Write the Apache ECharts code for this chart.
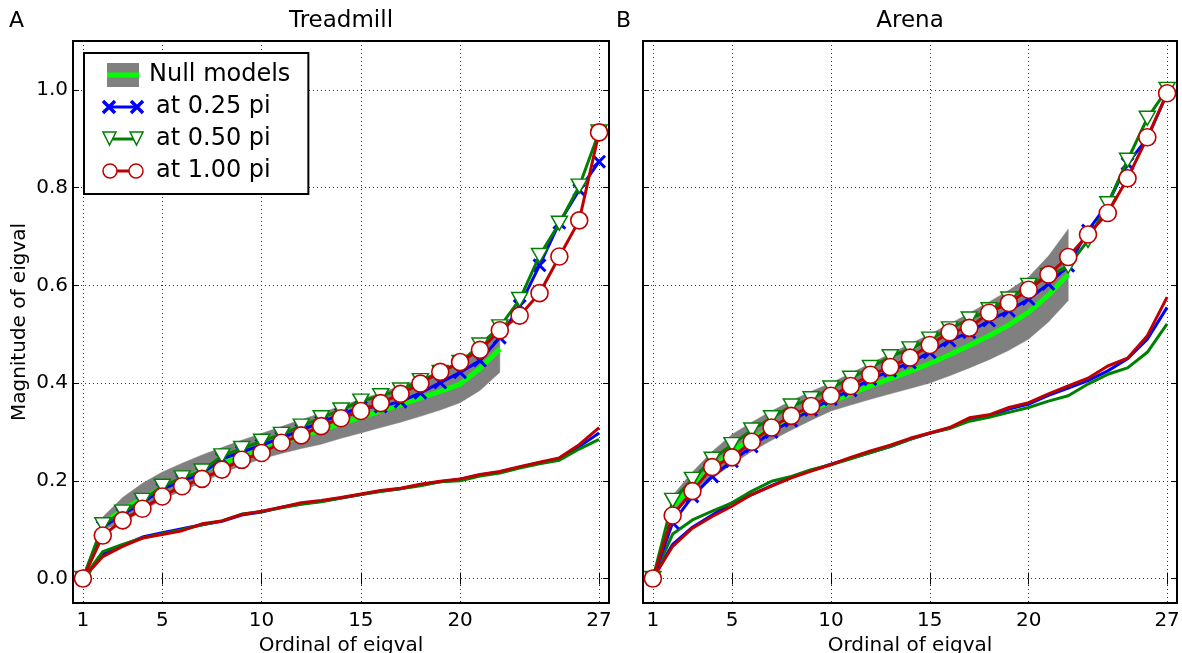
<!DOCTYPE html>
<html>
<head>
<meta charset="utf-8">
<script src="https://cdn.jsdelivr.net/npm/echarts@6/dist/echarts.min.js"></script>
<style>html,body{margin:0;padding:0;background:#fff}#c{width:1182px;height:653px}</style>
</head>
<body>
<div id="c"></div>
<script>
// ---------- data ----------
const ordinals = [1,2,3,4,5,6,7,8,9,10,11,12,13,14,15,16,17,18,19,20,21,22,23,24,25,26,27];
const nullOrdinals = [2,3,4,5,6,7,8,9,10,11,12,13,14,15,16,17,18,19,20,21,22];
const xTickValues = [1,5,10,15,20,27];
const yTickValues = [0,0.2,0.4,0.6,0.8,1.0];
const panelTitles = ['Treadmill','Arena'];
const panelLetters = ['A','B'];

// Treadmill
const treadNullLo   = [0.100,0.115,0.138,0.162,0.180,0.196,0.216,0.231,0.245,0.256,0.266,0.275,0.287,0.298,0.309,0.320,0.332,0.345,0.360,0.385,0.422];
const treadNullMean = [0.112,0.140,0.164,0.185,0.203,0.220,0.236,0.251,0.265,0.278,0.291,0.304,0.317,0.330,0.343,0.356,0.369,0.383,0.398,0.430,0.470];
const treadNullHi   = [0.126,0.166,0.195,0.218,0.236,0.253,0.268,0.283,0.297,0.311,0.325,0.339,0.353,0.367,0.380,0.394,0.408,0.423,0.440,0.472,0.515];
const treadUp025 = [0,0.105,0.131,0.155,0.183,0.200,0.215,0.245,0.259,0.273,0.288,0.304,0.320,0.336,0.350,0.352,0.362,0.380,0.401,0.422,0.446,0.493,0.558,0.641,0.728,0.795,0.853];
const treadUp050 = [0,0.110,0.136,0.160,0.189,0.206,0.220,0.251,0.266,0.281,0.295,0.312,0.329,0.345,0.363,0.374,0.386,0.405,0.422,0.442,0.478,0.515,0.571,0.661,0.727,0.803,0.914];
const treadUp100 = [0,0.088,0.119,0.143,0.168,0.189,0.204,0.223,0.243,0.257,0.278,0.293,0.312,0.328,0.343,0.359,0.378,0.399,0.423,0.443,0.468,0.508,0.538,0.584,0.659,0.733,0.913];
const treadLo025 = [0,0.050,0.068,0.085,0.094,0.102,0.110,0.117,0.130,0.136,0.146,0.153,0.158,0.165,0.172,0.179,0.184,0.192,0.198,0.203,0.212,0.218,0.228,0.237,0.245,0.270,0.298];
const treadLo050 = [0,0.055,0.070,0.083,0.092,0.100,0.110,0.118,0.132,0.137,0.145,0.152,0.157,0.165,0.172,0.178,0.184,0.190,0.198,0.200,0.210,0.216,0.226,0.235,0.242,0.265,0.285];
const treadLo100 = [0,0.045,0.066,0.083,0.090,0.098,0.112,0.118,0.131,0.138,0.146,0.155,0.160,0.166,0.173,0.180,0.185,0.193,0.199,0.204,0.213,0.219,0.229,0.238,0.247,0.274,0.309];

// Arena
const arenaNullLo   = [0.130,0.170,0.205,0.234,0.260,0.283,0.304,0.324,0.343,0.355,0.367,0.378,0.389,0.400,0.415,0.431,0.448,0.467,0.490,0.525,0.569];
const arenaNullMean = [0.148,0.190,0.228,0.260,0.286,0.308,0.327,0.345,0.362,0.378,0.394,0.409,0.424,0.440,0.458,0.477,0.497,0.519,0.545,0.580,0.622];
const arenaNullHi   = [0.170,0.218,0.260,0.295,0.320,0.343,0.364,0.383,0.400,0.420,0.440,0.460,0.480,0.500,0.521,0.543,0.566,0.590,0.617,0.660,0.715];
const arenaUp025 = [0,0.114,0.168,0.209,0.240,0.270,0.300,0.323,0.345,0.367,0.385,0.408,0.425,0.442,0.463,0.487,0.504,0.528,0.548,0.572,0.603,0.640,0.712,0.767,0.849,0.901,0.993];
const arenaUp050 = [0,0.160,0.203,0.244,0.274,0.304,0.329,0.353,0.368,0.390,0.410,0.432,0.454,0.470,0.490,0.511,0.531,0.550,0.572,0.600,0.620,0.639,0.692,0.767,0.856,0.942,1.001];
const arenaUp100 = [0,0.129,0.179,0.228,0.248,0.280,0.309,0.333,0.353,0.374,0.394,0.417,0.433,0.452,0.478,0.504,0.513,0.544,0.564,0.591,0.622,0.658,0.704,0.748,0.819,0.903,0.993];
const arenaLo025 = [0,0.070,0.105,0.130,0.155,0.172,0.190,0.207,0.221,0.234,0.246,0.258,0.270,0.285,0.297,0.308,0.325,0.332,0.347,0.357,0.375,0.390,0.405,0.425,0.450,0.490,0.555];
const arenaLo050 = [0,0.091,0.120,0.138,0.155,0.179,0.199,0.209,0.223,0.233,0.245,0.258,0.270,0.285,0.298,0.307,0.322,0.330,0.340,0.350,0.363,0.374,0.398,0.418,0.431,0.463,0.521];
const arenaLo100 = [0,0.066,0.103,0.127,0.148,0.172,0.189,0.206,0.220,0.233,0.248,0.261,0.273,0.287,0.298,0.309,0.329,0.335,0.350,0.360,0.378,0.394,0.410,0.435,0.451,0.497,0.576];

const legendNames = ['Null models','at 0.25 pi','at 0.50 pi','at 1.00 pi'];

// ---------- styles ----------
const FONT = 'DejaVu Sans';
const C_BLUE = '#0000ff', C_GREEN = '#008000', C_RED = '#bf0000', C_LIME = '#00ff00', C_GRAY = '#808080';
const X_PATH = 'path://M0,1.5L1.5,0L5,3.5L8.5,0L10,1.5L6.5,5L10,8.5L8.5,10L5,6.5L1.5,10L0,8.5L3.5,5Z';

function pairs(xs, ys){ return xs.map((x,i)=>[x, ys[i]]); }

function svgIcon(inner){
  return 'image://data:image/svg+xml;charset=utf-8,' + encodeURIComponent(
    '<svg xmlns="http://www.w3.org/2000/svg" width="42" height="24" viewBox="0 0 42 24">' + inner + '</svg>');
}
const iconNull = svgIcon('<rect x="5" y="0" width="32" height="24" fill="'+C_GRAY+'"/><line x1="5" y1="12" x2="37" y2="12" stroke="'+C_LIME+'" stroke-width="5"/>');
const iconB = svgIcon('<line x1="7" y1="12" x2="35" y2="12" stroke="'+C_BLUE+'" stroke-width="3"/><path d="M1,6L13,18M13,6L1,18M29,6L41,18M41,6L29,18" stroke="'+C_BLUE+'" stroke-width="3.5" fill="none"/>');
const iconG = svgIcon('<line x1="7" y1="12" x2="35" y2="12" stroke="'+C_GREEN+'" stroke-width="3"/><polygon points="1,5 14,5 7.5,18" fill="#fff" stroke="'+C_GREEN+'" stroke-width="1.5"/><polygon points="28,5 41,5 34.5,18" fill="#fff" stroke="'+C_GREEN+'" stroke-width="1.5"/>');
const iconR = svgIcon('<line x1="7" y1="12" x2="35" y2="12" stroke="'+C_RED+'" stroke-width="3"/><circle cx="8" cy="12" r="7" fill="#fff" stroke="'+C_RED+'" stroke-width="1.5"/><circle cx="34" cy="12" r="7" fill="#fff" stroke="'+C_RED+'" stroke-width="1.5"/>');

const panels = [
  {lo:treadNullLo, mean:treadNullMean, hi:treadNullHi, up:[treadUp025,treadUp050,treadUp100], low:[treadLo025,treadLo050,treadLo100]},
  {lo:arenaNullLo, mean:arenaNullMean, hi:arenaNullHi, up:[arenaUp025,arenaUp050,arenaUp100], low:[arenaLo025,arenaLo050,arenaLo100]}
];
const grids = [
  {left:73, top:41, width:536, height:562},
  {left:643, top:41, width:534, height:562}
];

const xAxes = [], yAxes = [], series = [];
grids.forEach((g, p) => {
  const common = {type:'value', gridIndex:p, min:0.5, max:27.5,
    axisLine:{show:false},
    axisTick:{show:true, inside:true, length:6, customValues:xTickValues, lineStyle:{color:'#000', width:1}},
    splitLine:{show:false}};
  xAxes.push(Object.assign({}, common, {
    position:'bottom',
    name:'Ordinal of eigval', nameLocation:'middle', nameGap:31,
    nameTextStyle:{fontFamily:FONT, fontSize:20, color:'#000'},
    axisLabel:{show:true, customValues:xTickValues, margin:8, fontFamily:FONT, fontSize:20, color:'#000'},
    splitLine:{show:true, lineStyle:{color:'#333', width:1, type:[1,3]}}
  }));
  xAxes.push(Object.assign({}, common, {position:'top', axisLabel:{show:false}}));
  const ycommon = {type:'value', gridIndex:p, min:-0.05, max:1.1,
    axisLine:{show:false},
    axisTick:{show:true, inside:true, length:6, customValues:yTickValues, lineStyle:{color:'#000', width:1}},
    splitLine:{show:false}};
  yAxes.push(Object.assign({}, ycommon, {
    position:'left',
    name: p===0 ? 'Magnitude of eigval' : '', nameLocation:'middle', nameGap:43, nameRotate:90,
    nameTextStyle:{fontFamily:FONT, fontSize:20, color:'#000'},
    axisLabel:{show:p===0, customValues:yTickValues, margin:5, fontFamily:FONT, fontSize:20, color:'#000',
      formatter:v=>Number(v).toFixed(1)},
    splitLine:{show:true, lineStyle:{color:'#333', width:1, type:[1,3]}}
  }));
  yAxes.push(Object.assign({}, ycommon, {position:'right', axisLabel:{show:false}}));

  const xi = p*2, yi = p*2;
  const P = panels[p];
  // null band drawn as one polygon from the lo/hi arrays through the axis scales
  const bandData = nullOrdinals.map((x,i)=>[x, P.lo[i], P.hi[i]]);
  series.push({type:'custom', name:'band-'+p, xAxisIndex:xi, yAxisIndex:yi, silent:true, z:1,
    data:bandData, encode:{x:0, y:[1,2]},
    renderItem:(params, api)=>{
      if (params.dataIndex !== 0) return null;
      const top = bandData.map(d=>api.coord([d[0], d[2]]));
      const bot = bandData.map(d=>api.coord([d[0], d[1]])).reverse();
      return {type:'polygon', shape:{points: top.concat(bot)}, style:{fill:C_GRAY, stroke:C_GRAY, lineWidth:0.5}};
    }});
  series.push({type:'line', name:'Null models', xAxisIndex:xi, yAxisIndex:yi,
    data:pairs(nullOrdinals, P.mean), symbol:'none', color:C_LIME, lineStyle:{color:C_LIME, width:5}, z:2});
  const cols = [C_BLUE, C_GREEN, C_RED];
  cols.forEach((c, k) => {
    series.push({type:'line', name:'low-'+k+'-'+p, xAxisIndex:xi, yAxisIndex:yi,
      data:pairs(ordinals, P.low[k]), symbol:'none', lineStyle:{color:c, width:3}, z:3+k});
  });
  const sym = [
    {symbol:X_PATH, symbolSize:14, itemStyle:{color:C_BLUE, borderWidth:0}},
    {symbol:'triangle', symbolRotate:180, symbolSize:[16,14], itemStyle:{color:'#fff', borderColor:C_GREEN, borderWidth:1.5}},
    {symbol:'circle', symbolSize:17, itemStyle:{color:'#fff', borderColor:C_RED, borderWidth:1.6}}
  ];
  cols.forEach((c, k) => {
    series.push(Object.assign({type:'line', name:legendNames[k+1], xAxisIndex:xi, yAxisIndex:yi,
      data:pairs(ordinals, P.up[k]), showAllSymbol:true, color:c, lineStyle:{color:c, width:3}, z:6+k}, sym[k]));
  });
});

const titles = [];
grids.forEach((g,p)=>{
  titles.push({text:panelLetters[p], left: p===0 ? 9 : 616, top:10, padding:0,
    textStyle:{fontFamily:FONT, fontSize:22, fontWeight:'normal', color:'#000'}});
  titles.push({text:panelTitles[p], left: g.left + g.width/2, textAlign:'center', top:10, padding:0,
    textStyle:{fontFamily:FONT, fontSize:23, fontWeight:'normal', color:'#000'}});
});

const option = {
  animation:false,
  backgroundColor:'#fff',
  title: titles,
  grid: grids.map(g=>Object.assign({show:true, borderColor:'#000', borderWidth:2, backgroundColor:'transparent',
    containLabel:false, outerBoundsMode:'none'}, g)),
  xAxis: xAxes,
  yAxis: yAxes,
  legend: {
    show:true, orient:'vertical', left:84, top:53,
    padding:[10,18,11,18], itemGap:8, itemWidth:42, itemHeight:24,
    backgroundColor:'#fff', borderColor:'#000', borderWidth:2,
    textStyle:{fontFamily:FONT, fontSize:24, color:'#000'},
    selectedMode:false,
    data:[
      {name:legendNames[0], icon:iconNull},
      {name:legendNames[1], icon:iconB, textStyle:{padding:[0,0,0,7]}},
      {name:legendNames[2], icon:iconG, textStyle:{padding:[0,0,0,7]}},
      {name:legendNames[3], icon:iconR, textStyle:{padding:[0,0,0,7]}}
    ]
  },
  series: series
};
const chart = echarts.init(document.getElementById('c'), null, {renderer:'canvas'});
chart.setOption(option);
</script>
</body>
</html>
